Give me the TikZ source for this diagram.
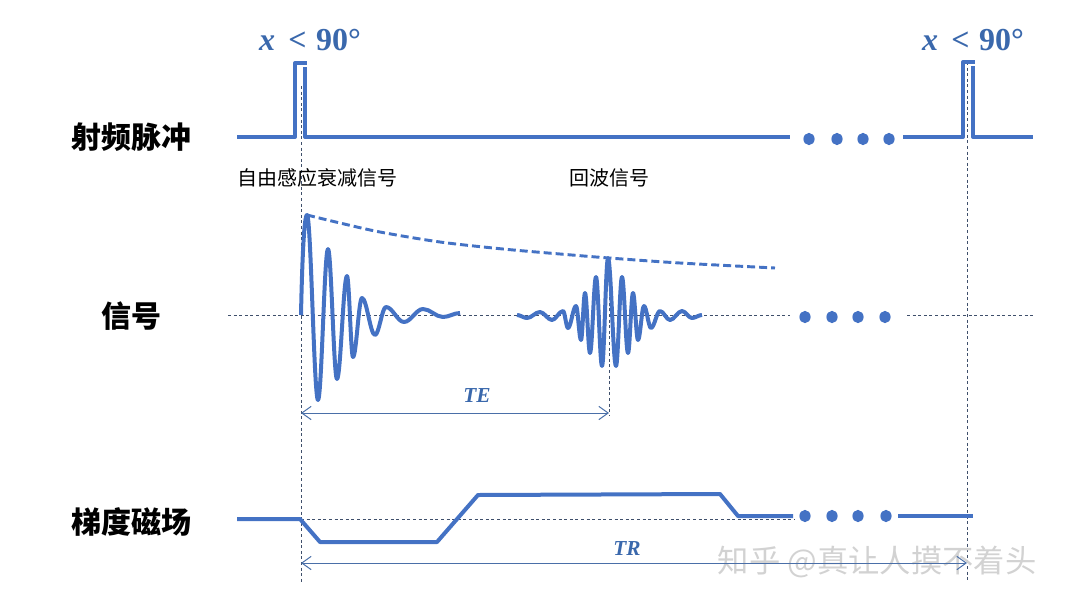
\documentclass[tikz,border=0pt]{standalone}
\usepackage{fontspec}
\setmainfont{Liberation Serif}
\newfontfamily\cjk{Noto Sans CJK SC}
\usetikzlibrary{arrows.meta}
\definecolor{wave}{HTML}{4472C4}
\definecolor{guide}{HTML}{3F4F6B}
\definecolor{dim}{HTML}{4A6FA8}
\definecolor{lbl}{HTML}{3A68AC}
\definecolor{wm}{HTML}{D2D2D2}
\begin{document}
\begin{tikzpicture}[x=0.75pt,y=-0.75pt,
  wavel/.style={draw=wave,line width=3pt,line join=round},
  guideline/.style={draw=guide,line width=0.6pt,dash pattern=on 2.2pt off 2pt},
  envl/.style={draw=wave,line width=2.2pt,dash pattern=on 6pt off 3pt},
  dimarrow/.style={draw=dim,line width=0.75pt,{Straight Barb[length=7pt,width=10pt]}-{Straight Barb[length=7pt,width=10pt]}},
  rowlabel/.style={font=\cjk\bfseries\fontsize{22.5}{24}\selectfont},
  siglabel/.style={font=\cjk\fontsize{15}{17}\selectfont},
  anglelabel/.style={font=\fontsize{24}{26}\selectfont\bfseries, text=lbl},
  dimlabel/.style={font=\fontsize{16}{18}\selectfont\bfseries\itshape, text=lbl},
  dotmark/.style={fill=wave}
]
\useasboundingbox (0,0) rectangle (1067,604);

% guide coordinates
\coordinate (v1top) at (301,86);  \coordinate (v1bot) at (301,582);
\coordinate (v2top) at (967,62);  \coordinate (v2bot) at (967,582);
\coordinate (v3top) at (609,258); \coordinate (v3bot) at (609,416);
\coordinate (hs1a) at (228,315);  \coordinate (hs1b) at (790,315);
\coordinate (hs2a) at (907,315);  \coordinate (hs2b) at (1033,315);
\coordinate (hga) at (301,519);   \coordinate (hgb) at (795,519);

\draw[guideline] (v1top) -- (v1bot);
\draw[guideline] (v2top) -- (v2bot);
\draw[guideline] (v3top) -- (v3bot);
\draw[guideline] (hs1a) -- (hs1b);
\draw[guideline] (hs2a) -- (hs2b);
\draw[guideline] (hga) -- (hgb);

% watermark
\node[font=\cjk\fontsize{23.5}{25}\selectfont, text=wm] (wmk) at (877,562) {知乎 @真让人摸不着头};

% row labels
\node[rowlabel] (rf) at (131,137) {射频脉冲};
\node[rowlabel] (sig) at (131,316) {信号};
\node[rowlabel] (grad) at (131,522) {梯度磁场};
\node[siglabel] (fidl) at (317,178) {自由感应衰减信号};
\node[siglabel] (echol) at (609,178) {回波信号};
\node[anglelabel] (a1) at (310,40) {\textit{x}\hspace{10pt}<\hspace{7pt}90°};
\node[anglelabel] (a2) at (973,40) {\textit{x}\hspace{10pt}<\hspace{7pt}90°};

% RF pulses
\draw[wavel] (237,137) -- (295,137) -- (295,63) -- (307,63);
\draw[wavel] (305,67) -- (305,137) -- (790,137);
\draw[wavel] (903,137) -- (963,137) -- (963,62) -- (975,62);
\draw[wavel] (973,66) -- (973,137) -- (1033,137);
\foreach \x in {809,837,863,889} \fill[dotmark] (\x,139) ellipse [x radius=4.2pt, y radius=4.6pt];

% envelope
\draw[envl] plot[smooth] coordinates {(307,215)(340,223)(380,232)(440,242)(503,249)(560,254)(609,258)(680,263)(775,268)};

% FID
\draw[wavel] (301,315) .. controls (302,265) and (304,215) .. (307,215)
  \foreach \x/\y [remember=\x as \px (initially 307)] in {318/400, 328/249, 337/379, 347/276, 353/357, 362/298, 375/335, 386/307, 404/322, 423/309, 443/317, 460/313}
  { .. controls +({0.36*(\x-\px)},0) and +({-0.36*(\x-\px)},0) .. (\x,\y) };

% echo
\draw[wavel] (517,315)
  \foreach \x/\y [remember=\x as \px (initially 517)] in {527/318, 540/312, 552/320, 563/311, 568/328, 576/306, 581/340, 585/293, 590/353, 596/277, 602/366, 608/258, 616/366, 622/277, 628/353, 633/293, 638/340, 644/306, 651/328, 660/311, 670/320, 682/311, 692/318, 702/315}
  { .. controls +({0.36*(\x-\px)},0) and +({-0.36*(\x-\px)},0) .. (\x,\y) };

\foreach \x in {805,832,858,885} \fill[dotmark] (\x,317) ellipse [x radius=4.2pt, y radius=4.6pt];

% gradient
\draw[wavel] (237,519) -- (300,519) -- (320,542) -- (437,542) -- (478,495) -- (720,494) -- (738,516) -- (793,516);
\draw[wavel] (898,516) -- (973,516);
\foreach \x in {805,832,858,886} \fill[dotmark] (\x,516) ellipse [x radius=4.2pt, y radius=4.6pt];

% TE / TR
\coordinate (teL) at (301,413); \coordinate (teR) at (609,413);
\coordinate (trL) at (301,563); \coordinate (trR) at (967,563);
\draw[dimarrow] (teL) -- (teR);
\draw[dimarrow] (trL) -- (trR);
\node[dimlabel] (te) at (477,396) {TE};
\node[dimlabel] (tr) at (627,549) {TR};
\end{tikzpicture}
\end{document}
